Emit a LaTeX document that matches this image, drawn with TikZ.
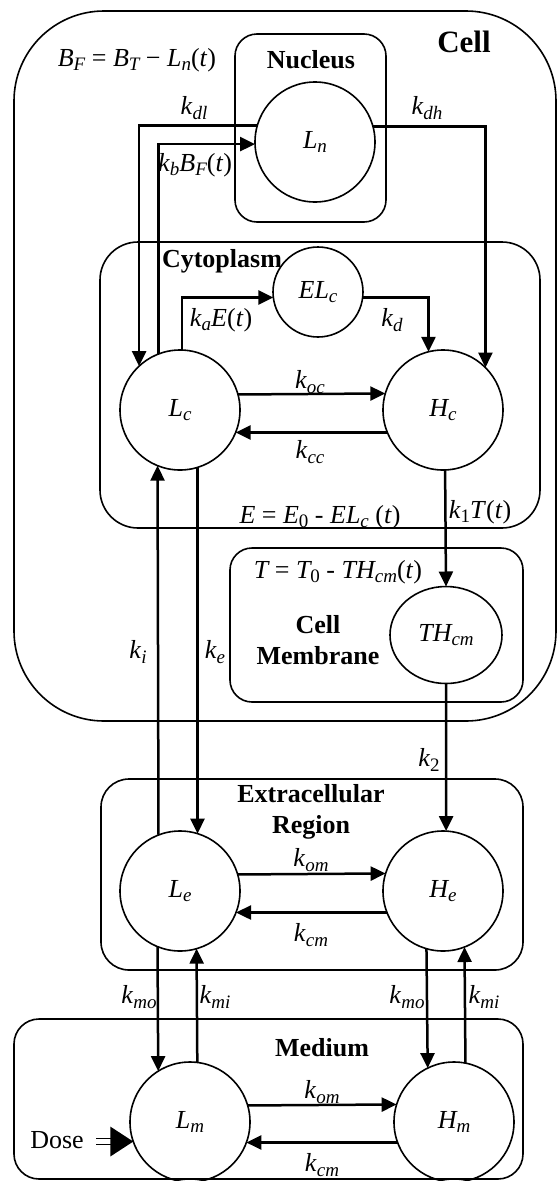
\documentclass[tikz,border=0pt]{standalone}
\usepackage{fontspec}
\setmainfont{Liberation Serif}
\usetikzlibrary{arrows.meta,shapes.geometric,calc}
\newcommand{\sbx}[1]{\raisebox{-0.18em}{\fontsize{19}{19}\selectfont\itshape #1}}
\newcommand{\sbu}[1]{\raisebox{-0.18em}{\fontsize{19}{19}\selectfont\upshape #1}}
\newcommand{\rk}[1]{\textit{k}\sbx{#1}}
\begin{document}
\begin{tikzpicture}[x=1pt,y=-1pt,
  every node/.style={font=\fontsize{26}{31}\selectfont, inner sep=0pt},
  region/.style={draw, line width=1.6pt},
  comp/.style={draw, circle, line width=1.6pt, minimum size=120pt, inner sep=0pt, outer sep=0pt},
  conn/.style={line width=2.5pt, -{Triangle[length=15pt,width=14pt]}},
  lbl/.style={font=\fontsize{26}{31}\selectfont\bfseries, align=center}
]
\useasboundingbox (0,0) rectangle (558,1181);

% regions
\draw[region, rounded corners=90pt] (14,11) rectangle (556,721);
\draw[region, rounded corners=22pt] (235,34) rectangle (386,222);
\draw[region, rounded corners=38pt] (100,242) rectangle (540,528);
\draw[region, rounded corners=22pt] (230,548) rectangle (523,702);
\draw[region, rounded corners=28pt] (101,779) rectangle (523,970);
\draw[region, rounded corners=25pt] (14,1019) rectangle (523,1179);

% region labels
\node[lbl, font=\fontsize{31}{36}\selectfont\bfseries] (celllbl) at (464,42) {Cell};
\node[lbl] (nuclbl) at (311,60) {Nucleus};
\node[lbl] (cytlbl) at (222,261) {Cytoplasm};
\node[lbl] (memlbl) at (318,640) {Cell\\Membrane};
\node[lbl] (extlbl) at (311,812) {Extracellular\\Region};
\node[lbl] (medlbl) at (322,1048) {Medium};

% compartments
\node[comp] (Ln) at (315,142) {\itshape L\sbx{n}};
\node[comp, minimum size=90pt] (ELc) at (318,292) {\itshape EL\sbx{c}};
\node[comp] (Lc) at (180,410) {\itshape L\sbx{c}};
\node[comp] (Hc) at (443,410) {\itshape H\sbx{c}};
\node[draw, ellipse, line width=1.6pt, minimum width=112pt, minimum height=97pt, inner sep=0pt, outer sep=0pt] (THcm) at (446,635) {\itshape TH\sbx{cm}};
\node[comp] (Le) at (180,891) {\itshape L\sbx{e}};
\node[comp] (He) at (443,891) {\itshape H\sbx{e}};
\node[comp] (Lm) at (190,1122) {\itshape L\sbx{m}};
\node[comp] (Hm) at (454,1122) {\itshape H\sbx{m}};

% equations
\node (bfeq) at (137,60) {{\itshape B\sbx{F}} = {\itshape B\sbx{T}} − {\itshape L\sbx{n}}(\textit{t})};
\node (eeq) at (320,517) {{\itshape E} = {\itshape E}\sbu{0} - {\itshape EL\sbx{c}} (\textit{t})};
\node (teq) at (338,572) {{\itshape T} = {\itshape T}\sbu{0} - {\itshape TH\sbx{cm}}(\textit{t})};

% connectors
\draw[conn] (Ln.164.5) -| (Lc.133.1);
\draw[conn] (Ln.15.5) -| (Hc.45.6);
\draw[conn] (Lc.111.5) |- (Ln.182.9);
\draw[conn] (Lc.88.1) |- (ELc.187.7);
\draw[conn] (ELc.-7.7) -| (Hc.104.5);
\draw[conn] (Lc.15.5) -- (Hc.164.5);
\draw[conn] (Hc.202.5) -- (Lc.-22.5);
\draw[conn] (Hc.272.9) -- (THcm.north);
\draw[conn] (THcm.south) -- (He.87.1);
\draw[conn] (Lc.-73.5) -- (Le.73.5);
\draw[conn] (Le.111.5) -- (Lc.248.5);
\draw[conn] (Le.16.5) -- (He.163.5);
\draw[conn] (He.201.5) -- (Le.-21.5);
\draw[conn] (Le.248.5) -- (Lm.122.2);
\draw[conn] (Lm.83.3) -- (Le.286.5);
\draw[conn] (He.254.5) -- (Hm.116.7);
\draw[conn] (Hm.79.4) -- (He.291.5);
\draw[conn] (Lm.16.5) -- (Hm.163.5);
\draw[conn] (Hm.200.5) -- (Lm.-20.5);

% rate labels
\node (kdl) at (194,108) {\rk{dl}};
\node (kdh) at (427,108) {\rk{dh}};
\node (kb) at (195,165) {\rk{b}\textit{B}\sbx{F}(\textit{t})};
\node (ka) at (221,320) {\rk{a}\textit{E}(\textit{t})};
\node (kd) at (392,320) {\rk{d}};
\node (koc) at (310,382) {\rk{oc}};
\node (kcc) at (310,452) {\rk{cc}};
\node (k1) at (480,512) {\textit{k}\sbu{1}\textit{T}(\textit{t})};
\node (ki) at (138,652) {\rk{i}};
\node (ke) at (215,652) {\rk{e}};
\node (k2) at (429,760) {\textit{k}\sbu{2}};
\node (kome) at (311,860) {\rk{om}};
\node (kcme) at (311,935) {\rk{cm}};
\node (kmo1) at (139,997) {\rk{mo}};
\node (kmi1) at (215,997) {\rk{mi}};
\node (kmo2) at (407,997) {\rk{mo}};
\node (kmi2) at (484,997) {\rk{mi}};
\node (komm) at (322,1092) {\rk{om}};
\node (kcmm) at (322,1165) {\rk{cm}};

% dose
\node (dose) at (57,1140) {Dose};
\coordinate (dtip) at (Lm.199.5);
\fill ($(dtip)+(-23,-15)$) -- (dtip) -- ($(dtip)+(-23,15)$) -- cycle;
\draw[line width=1.6pt] ($(dtip)+(-37,-3)$) -- ($(dtip)+(-21,-3)$)
  ($(dtip)+(-37,3)$) -- ($(dtip)+(-21,3)$);
\end{tikzpicture}
\end{document}
